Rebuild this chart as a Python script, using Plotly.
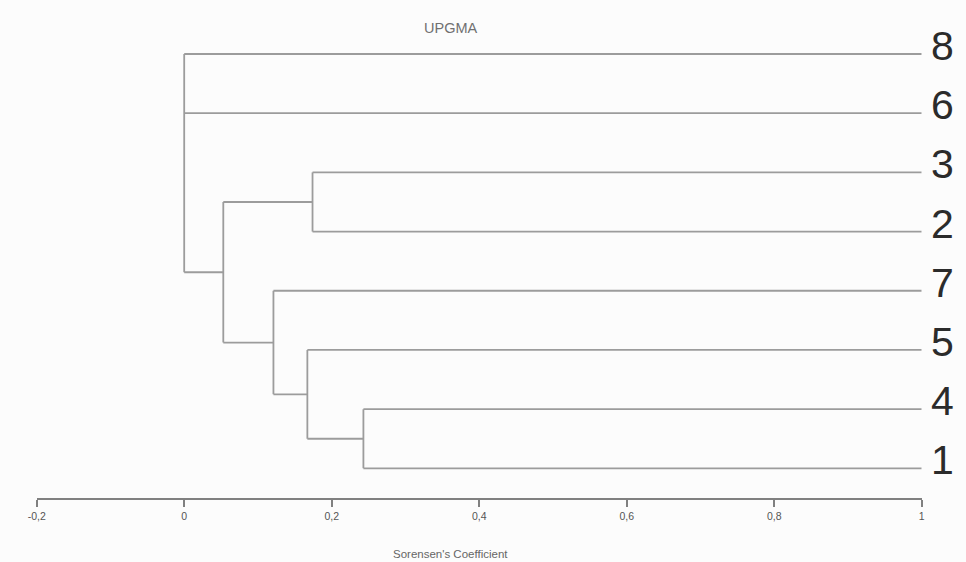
import plotly.graph_objects as go

# Leaves, top to bottom
leaf_labels = ["8", "6", "3", "2", "7", "5", "4", "1"]

# Cluster tree: each internal node lists its children and its join level
# (Sorensen's coefficient). Leaves sit at 1.
node_children = {
    "n41": ["4", "1"],
    "n541": ["5", "n41"],
    "n7541": ["7", "n541"],
    "n32": ["3", "2"],
    "n_main": ["n32", "n7541"],
    "root": ["8", "6", "n_main"],
}
node_level = {
    "n41": 0.243,
    "n541": 0.167,
    "n7541": 0.121,
    "n32": 0.174,
    "n_main": 0.053,
    "root": 0.0,
}
leaf_level = 1.0

axis_ticks = [-0.2, 0, 0.2, 0.4, 0.6, 0.8, 1]
axis_ticktext = ["-0,2", "0", "0,2", "0,4", "0,6", "0,8", "1"]

# Build the dendrogram segments
xs, ys = [], []


def level_of(n):
    return node_level.get(n, leaf_level)


def place(n):
    """Return the vertical position of node n and add its segments."""
    if n not in node_children:
        return float(leaf_labels.index(n))
    kids = node_children[n]
    kid_y = [place(k) for k in kids]
    x0 = node_level[n]
    # vertical connector
    xs.extend([x0, x0, None])
    ys.extend([min(kid_y), max(kid_y), None])
    # horizontal branches to each child
    for k, ky in zip(kids, kid_y):
        xs.extend([x0, level_of(k), None])
        ys.extend([ky, ky, None])
    return (min(kid_y) + max(kid_y)) / 2


place("root")

line_color = "#9c9c9c"
fig = go.Figure()
fig.add_trace(go.Scatter(
    x=xs, y=ys, mode="lines",
    line=dict(color=line_color, width=1.8),
    hoverinfo="skip", showlegend=False,
))

# Leaf labels to the right of the branch ends
annotations = []
for i, lab in enumerate(leaf_labels):
    annotations.append(dict(
        x=leaf_level, y=i, xref="x", yref="y", text=lab, showarrow=False,
        xanchor="left", yanchor="middle", xshift=7, yshift=8,
        font=dict(family="Liberation Sans, Arial", size=41, color="#2b2b2b"),
    ))

W, H = 966, 562
annotations.append(dict(
    x=450.5 / W, y=1 - 28 / H, xref="paper", yref="paper", text="UPGMA",
    showarrow=False, xanchor="center", yanchor="middle",
    font=dict(family="Liberation Sans, Arial", size=14.5, color="#707070"),
))
annotations.append(dict(
    x=450.5 / W, y=1 - 554 / H, xref="paper", yref="paper",
    text="Sorensen's Coefficient",
    showarrow=False, xanchor="center", yanchor="middle",
    font=dict(family="Liberation Sans, Arial", size=11.5, color="#666666"),
))

fig.update_layout(
    width=W, height=H,
    margin=dict(l=0, r=0, t=0, b=0, autoexpand=False),
    paper_bgcolor="#fcfcfc", plot_bgcolor="#fcfcfc",
    annotations=annotations,
    xaxis=dict(
        domain=[36.7 / W, 921.7 / W], range=[-0.2, 1], automargin=False,
        tickvals=axis_ticks, ticktext=axis_ticktext,
        showline=True, linecolor="#808080", linewidth=1.5,
        ticks="outside", ticklen=7, tickwidth=1.5, tickcolor="#808080",
        showgrid=False, zeroline=False,
        tickfont=dict(family="Liberation Sans, Arial", size=10.5, color="#555555"),
    ),
    yaxis=dict(
        domain=[(H - 498.3) / H, 1], automargin=False,
        range=[(498.3 - 54) / 59.19, -54 / 59.19],
        showgrid=False, zeroline=False, showline=False,
        showticklabels=False, ticks="",
    ),
)

fig.write_html("out.html")
